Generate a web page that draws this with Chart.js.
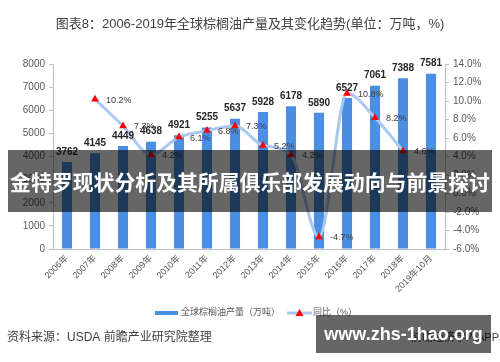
<!DOCTYPE html>
<html><head><meta charset="utf-8">
<script src="https://cdn.jsdelivr.net/npm/chart.js@4/dist/chart.umd.min.js"></script>
<style>
html,body{margin:0;padding:0;background:#fff;}
#wrap{position:relative;width:500px;height:362px;overflow:hidden;}
canvas{position:absolute;left:0;top:0;}
.band{position:absolute;left:8px;top:150px;width:484px;height:62px;background:rgba(0,0,0,0.6);color:#fff;font:bold 20px "Noto Sans CJK SC",sans-serif;line-height:62px;text-align:center;white-space:nowrap;overflow:visible;}
.wm{position:absolute;left:316px;top:315px;width:175px;height:38px;background:rgba(0,0,0,0.6);color:#fff;font:bold 18px "Liberation Sans","DejaVu Sans",sans-serif;line-height:38px;text-align:center;white-space:nowrap;}
</style></head>
<body><div id="wrap"><canvas id="c" width="500" height="362"></canvas>
<div class="band"><span id="bt">金特罗现状分析及其所属俱乐部发展动向与前景探讨</span></div>
<div class="wm">www.zhs-1hao.org</div></div>
<script>
const categories = ['2006年','2007年','2008年','2009年','2010年','2011年','2012年','2013年','2014年','2015年','2016年','2017年','2018年','2019年10月'];
const production = [3762,4145,4449,4638,4921,5255,5637,5928,6178,5890,6527,7061,7388,7581];
const growth = [null,10.2,7.3,4.2,6.1,6.8,7.3,5.2,4.2,-4.7,10.8,8.2,4.6,null];
const leftTicks = {min:0,max:8000,step:1000};
const rightTicks = {min:-6,max:14,step:2};
const titleText = '图表8：2006-2019年全球棕榈油产量及其变化趋势(单位：万吨，%)';
const seriesNames = ['全球棕榈油产量（万吨）','同比（%）'];
const sourceText = '资料来源：USDA 前瞻产业研究院整理';
const sourceRight = '前瞻经济学人APP';

const CJK = '"Liberation Sans","Noto Sans CJK SC",sans-serif';
const BAR = '#4a8fe2', LINE = '#a9c9f0';

// fit band text to 480px width
(function(){
  const el = document.getElementById('bt');
  const w = el.getBoundingClientRect().width;
  if (w > 0) el.parentNode.style.fontSize = (20 * 480 / w).toFixed(2) + 'px';
})();

const deco = {
  id:'deco',
  afterDatasetsDraw(chart){
    const ctx = chart.ctx;
    const x = chart.scales.x, yl = chart.scales.y, yr = chart.scales.y1;
    ctx.save();
    ctx.font = 'bold 10px ' + CJK; ctx.fillStyle = '#262626';
    ctx.textAlign = 'center'; ctx.textBaseline = 'bottom';
    production.forEach((v,i)=>{ ctx.fillText(String(v), x.getPixelForValue(i), yl.getPixelForValue(v)-5); });
    ctx.font = '9px ' + CJK; ctx.fillStyle = '#404040';
    ctx.textAlign = 'left'; ctx.textBaseline = 'middle';
    growth.forEach((v,i)=>{ if(v===null) return; ctx.fillText(v.toFixed(1)+'%', x.getPixelForValue(i)+11, yr.getPixelForValue(v)+1); });
    ctx.restore();
  },
  afterDraw(chart){
    const ctx = chart.ctx;
    ctx.save();
    ctx.font = '13px ' + CJK; ctx.fillStyle = '#404040';
    ctx.textAlign = 'center'; ctx.textBaseline = 'middle';
    ctx.fillText(titleText, 250, 24);
    ctx.fillStyle = BAR; ctx.fillRect(155, 311, 23, 4);
    ctx.font = '9px ' + CJK; ctx.fillStyle = '#595959'; ctx.textAlign='left';
    ctx.fillText(seriesNames[0], 181, 313);
    ctx.strokeStyle = LINE; ctx.lineWidth = 3;
    ctx.beginPath(); ctx.moveTo(287,313); ctx.lineTo(312,313); ctx.stroke();
    ctx.fillStyle = '#ff0000';
    ctx.beginPath(); ctx.moveTo(299.5,309); ctx.lineTo(303.5,316); ctx.lineTo(295.5,316); ctx.closePath(); ctx.fill();
    ctx.fillStyle = '#595959'; ctx.fillText(seriesNames[1], 313, 313);
    ctx.font = '12px ' + CJK; ctx.fillStyle = '#404040';
    ctx.fillText(sourceText, 7, 338);
    ctx.font = '11px ' + CJK; ctx.textAlign='right';
    ctx.fillText(sourceRight, 499, 338);
    ctx.restore();
  }
};

new Chart(document.getElementById('c'), {
  data:{
    labels:categories,
    datasets:[
      {type:'line', label:seriesNames[1], data:growth, yAxisID:'y1', borderColor:LINE, borderWidth:3,
       tension:0.4, cubicInterpolationMode:'monotone', pointStyle:'triangle', pointRadius:4.5, pointBackgroundColor:'#ff0000',
       pointBorderColor:'#ff0000', pointBorderWidth:0, spanGaps:false, order:0},
      {type:'bar', label:seriesNames[0], data:production, yAxisID:'y', backgroundColor:BAR,
       barPercentage:0.36, categoryPercentage:1, order:1}
    ]
  },
  options:{
    responsive:false, animation:false, devicePixelRatio:1,
    layout:{padding:{left:0,right:0,top:64,bottom:62}},
    plugins:{legend:{display:false}, title:{display:false}, tooltip:{enabled:false}},
    scales:{
      x:{grid:{display:false, drawTicks:false}, border:{color:'#bfbfbf'},
         ticks:{font:{size:9,family:CJK}, color:'#595959', maxRotation:45, minRotation:45, autoSkip:false, padding:4},
         afterFit(s){ s.height = 51; }},
      y:{position:'left', min:leftTicks.min, max:leftTicks.max,
         ticks:{stepSize:leftTicks.step, font:{size:10,family:CJK}, color:'#595959', padding:4, callback:v=>String(v)},
         grid:{drawOnChartArea:false, tickLength:4, color:'#bfbfbf'}, border:{color:'#bfbfbf'},
         afterFit(s){ s.width = 53; }},
      y1:{position:'right', min:rightTicks.min, max:rightTicks.max,
         ticks:{stepSize:rightTicks.step, font:{size:10,family:CJK}, color:'#595959', padding:4,
                callback:v=>v.toFixed(1)+'%'},
         grid:{drawOnChartArea:false, tickLength:4, color:'#bfbfbf'}, border:{color:'#bfbfbf'},
         afterFit(s){ s.width = 55; }}
    }
  },
  plugins:[deco]
});
</script></body></html>
